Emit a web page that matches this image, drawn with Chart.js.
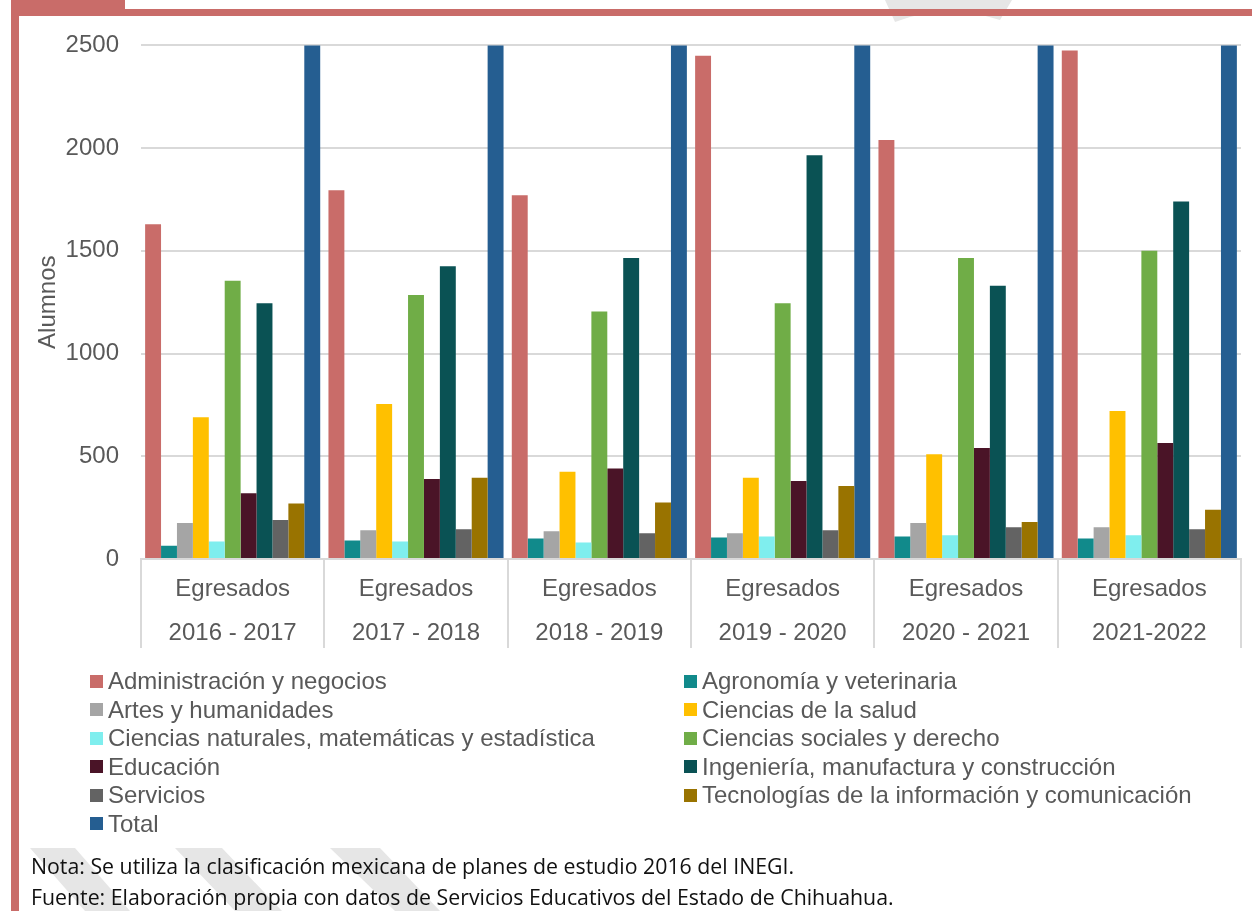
<!DOCTYPE html>
<html><head><meta charset="utf-8">
<script src="https://cdn.jsdelivr.net/npm/chart.js@4/dist/chart.umd.min.js"></script>
<style>
html,body{margin:0;padding:0}
body{width:1252px;height:911px;background:#fff;position:relative;overflow:hidden;font-family:'Liberation Sans',Arial,sans-serif}
.red{position:absolute;background:#C96C69}
#wm{position:absolute;left:0;top:0}
#wrap{position:absolute;left:19px;top:9px;width:1233px;height:650px}
#legend{position:absolute;left:0;top:0;width:1252px;height:911px;pointer-events:none}
.item{position:absolute;display:flex;align-items:center;font-size:24px;color:#595959;white-space:nowrap;height:28px}
.sw{width:13px;height:13px;margin-right:5px;flex:none}
.note{position:absolute;left:31px;font-family:'Open Sans','Noto Sans',sans-serif;font-size:21.3px;color:#111;white-space:nowrap;line-height:28px}
</style></head>
<body>
<svg id="wm" width="1252" height="911">
  <polygon points="30,848 75,848 130,911 85,911" fill="#E6E6E6"/>
  <polygon points="175,848 222,848 282,911 235,911" fill="#E6E6E6"/>
  <polygon points="330,848 380,848 440,911 395,911" fill="#E6E6E6"/>
  <path d="M885,0 L1012,0 L1000,20 Q945,2 895,22 Z" fill="#E6E6E6"/>
</svg>
<div class="red" style="left:11px;top:0;width:8px;height:911px"></div>
<div class="red" style="left:11px;top:0;width:114px;height:16px"></div>
<div class="red" style="left:11px;top:9px;width:1241px;height:7px"></div>
<div id="wrap"><canvas id="c"></canvas></div>
<div id="legend"></div>
<div class="note" style="top:852px">Nota: Se utiliza la clasificación mexicana de planes de estudio 2016 del INEGI.</div>
<div class="note" style="top:883px">Fuente: Elaboración propia con datos de Servicios Educativos del Estado de Chihuahua.</div>
<script>
const categories = [['Egresados','2016 - 2017'],['Egresados','2017 - 2018'],['Egresados','2018 - 2019'],['Egresados','2019 - 2020'],['Egresados','2020 - 2021'],['Egresados','2021-2022']];
const seriesNames = ['Administración y negocios','Agronomía y veterinaria','Artes y humanidades','Ciencias de la salud','Ciencias naturales, matemáticas y estadística','Ciencias sociales y derecho','Educación','Ingeniería, manufactura y construcción','Servicios','Tecnologías de la información y comunicación','Total'];
const seriesColors = ['#C96C69','#118A8B','#A5A5A5','#FFC000','#7FEEEE','#70AD47','#4A1427','#0A5254','#636363','#997300','#255E91'];
const admin      = [1630,1795,1770,2450,2040,2475];
const agro       = [65,90,100,105,110,100];
const artes      = [175,140,135,125,175,155];
const salud      = [690,755,425,395,510,720];
const naturales  = [85,85,80,110,115,115];
const sociales   = [1355,1285,1205,1245,1465,1500];
const educacion  = [320,390,440,380,540,565];
const ingenieria = [1245,1425,1465,1965,1330,1740];
const servicios  = [190,145,125,140,155,145];
const tic        = [270,395,275,355,180,240];
const total      = [6025,6505,6020,7270,6620,7755];
const yTicks = [0,500,1000,1500,2000,2500];

const seriesValues = [admin,agro,artes,salud,naturales,sociales,educacion,ingenieria,servicios,tic,total];

const sepPlugin = {id:'sep', afterDraw(c){
  const x=c.scales.x, a=c.chartArea, ctx=c.ctx;
  ctx.save(); ctx.strokeStyle='#D9D9D9'; ctx.lineWidth=2;
  for(let i=0;i<=categories.length;i++){
    const px=Math.round(x.getPixelForValue(i-0.5));
    ctx.beginPath(); ctx.moveTo(px,a.bottom); ctx.lineTo(px,a.bottom+89); ctx.stroke();
  }
  ctx.restore();
}};

const axisFont = {family:"'Liberation Sans', Arial, sans-serif", size:24};
new Chart(document.getElementById('c'), {
  type:'bar',
  data:{labels:categories, datasets: seriesNames.map((n,i)=>({label:n,data:seriesValues[i],backgroundColor:seriesColors[i],borderWidth:0,categoryPercentage:0.955,barPercentage:1.0}))},
  options:{
    responsive:true, maintainAspectRatio:false, animation:false,
    layout:{padding:{top:16,left:0,right:11,bottom:0}},
    plugins:{legend:{display:false},tooltip:{enabled:false}},
    scales:{
      x:{grid:{display:false},border:{display:true,color:'#D9D9D9',width:2},
         ticks:{font:{family:axisFont.family,size:24,lineHeight:1.83},color:'#595959',padding:0,maxRotation:0,autoSkip:false},
         afterFit(s){s.height=100;}},
      y:{min:0,max:2500,afterBuildTicks(s){s.ticks=yTicks.map(v=>({value:v}));},
         grid:{color:'#D9D9D9',lineWidth:2,drawTicks:false},border:{display:false},
         ticks:{font:axisFont,color:'#595959',padding:22,callback:v=>String(v)},
         title:{display:true,text:'Alumnos',font:axisFont,color:'#595959',padding:{top:15,bottom:0}},
         afterFit(s){s.width=122;}}
    }
  },
  plugins:[sepPlugin]
});

const leg=document.getElementById('legend');
seriesNames.forEach((n,i)=>{
  const col=i%2, row=Math.floor(i/2);
  const d=document.createElement('div'); d.className='item';
  d.style.left=(col?684:90)+'px'; d.style.top=(667+row*28.5)+'px';
  d.innerHTML='<span class="sw" style="background:'+seriesColors[i]+'"></span><span></span>';
  d.lastChild.textContent=n; leg.appendChild(d);
});
</script>
</body></html>
